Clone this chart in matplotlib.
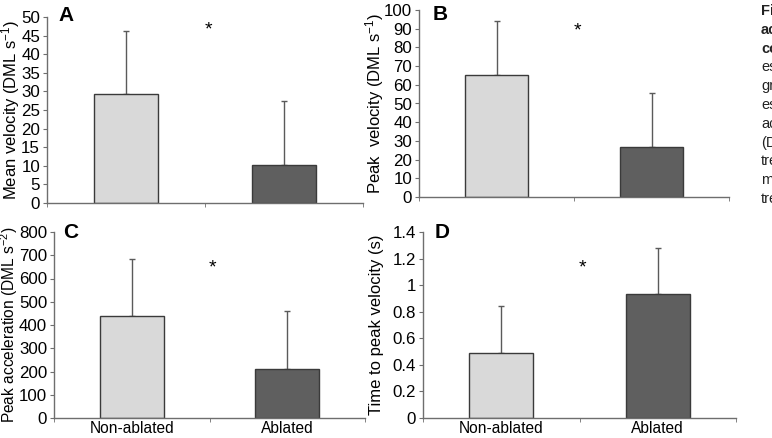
import matplotlib
matplotlib.use("Agg")
import matplotlib.pyplot as plt
from matplotlib.ticker import FormatStrFormatter, FuncFormatter
import numpy as np

plt.rcParams['font.family'] = ['Liberation Sans', 'DejaVu Sans']
plt.rcParams['mathtext.fontset'] = 'custom'
plt.rcParams['mathtext.rm'] = 'Liberation Sans'
plt.rcParams['mathtext.it'] = 'Liberation Sans:italic'

categories = ["Non-ablated", "Ablated"]

mean_velocity = [29.2, 10.3]
mean_velocity_sd = [17.1, 17.2]

peak_velocity = [65.3, 27.0]
peak_velocity_sd = [28.7, 28.7]

peak_acceleration = [437, 210]
peak_acceleration_sd = [249, 250]

time_to_peak = [0.49, 0.93]
time_to_peak_sd = [0.35, 0.35]

panels = [
    ("A", mean_velocity, mean_velocity_sd, "Mean velocity (DML s$^{-1}$)", (0, 50), 5, "%d", 46.5),
    ("B", peak_velocity, peak_velocity_sd, "Peak  velocity (DML s$^{-1}$)", (0, 100), 10, "%d", 89.0),
    ("C", peak_acceleration, peak_acceleration_sd, "Peak acceleration (DML s$^{-2}$)", (0, 800), 100, "%d", 645),
    ("D", time_to_peak, time_to_peak_sd, "Time to peak velocity (s)", (0, 1.4), 0.2, None, 1.13),
]

W, H = 772, 438
fig = plt.figure(figsize=(W / 100, H / 100), dpi=100)

# axes boxes in pixels: left, right, top, bottom
boxes = {
    "A": (47, 363, 17, 203),
    "B": (419, 729, 10, 197),
    "C": (54, 365, 232, 418),
    "D": (423, 736, 232, 418),
}
letter_pos = {"A": (58, 6), "B": (433, 5), "C": (63, 223), "D": (435, 223)}
ylabel_x = {"A": 10.5, "B": 375, "C": 9.5, "D": 377}
ylabel_size = {"A": 12.0, "B": 12.0, "C": 11.2, "D": 12.0}

bar_colors = ["#d9d9d9", "#5f5f5f"]
spine_col = "#6e6e6e"

for letter, vals, sds, ylabel, ylim, step, fmt, star_y in panels:
    l, r, t, b = boxes[letter]
    ax = fig.add_axes([l / W, (H - b) / H, (r - l) / W, (b - t) / H])
    x = np.arange(len(categories))
    ax.bar(x, vals, width=0.41, color=bar_colors, edgecolor="#3a3a3a", linewidth=1.0, zorder=2)
    ax.errorbar(x, vals, yerr=[[0, 0], sds], fmt="none", ecolor="#5a5a5a",
                elinewidth=1.0, capsize=2.5, capthick=1.0, zorder=1)
    ax.set_xlim(-0.5, 1.5)
    ax.set_ylim(*ylim)
    ticks = np.arange(ylim[0], ylim[1] + step / 2, step)
    ax.set_yticks(ticks)
    if fmt:
        ax.yaxis.set_major_formatter(FormatStrFormatter(fmt))
    else:
        ax.yaxis.set_major_formatter(FuncFormatter(lambda v, p: "%g" % round(v, 2)))
    for s in ["top", "right"]:
        ax.spines[s].set_visible(False)
    for s in ["left", "bottom"]:
        ax.spines[s].set_color(spine_col)
        ax.spines[s].set_linewidth(1.0)
    ax.set_xticks([-0.5, 0.5, 1.5], minor=True)
    ax.tick_params(axis="x", which="minor", length=3, color=spine_col, direction="out")
    if letter in ("C", "D"):
        ax.set_xticks(x, categories)
    else:
        ax.set_xticks(x, ["", ""])
    ax.tick_params(axis="x", which="major", length=0, labelsize=11.2, pad=2.3)
    ax.tick_params(axis="y", length=3, color=spine_col, labelsize=12.2, pad=2)
    fig.text(ylabel_x[letter] / W, 1 - ((t + b) / 2) / H, ylabel, rotation=90,
             ha="center", va="center", fontsize=ylabel_size[letter])
    ax.text(0.52, star_y, "*", ha="center", va="center", fontsize=14)
    lx, ly = letter_pos[letter]
    fig.text(lx / W, 1 - ly / H, letter, fontsize=15, fontweight="bold", ha="left", va="top")

caption = [("Fi", True), ("ac", True), ("co", True), ("es", False), ("gr", False),
           ("es", False), ("ac", False), ("(D", False), ("tre", False), ("m", False), ("tre", False)]
for i, (txt, bold) in enumerate(caption):
    fig.text(761 / W, 1 - (11 + i * 18.8) / H, txt, fontsize=10.5,
             fontweight="bold" if bold else "normal", ha="left", va="center", color="#222222")

fig.savefig("out.png", dpi=100)
